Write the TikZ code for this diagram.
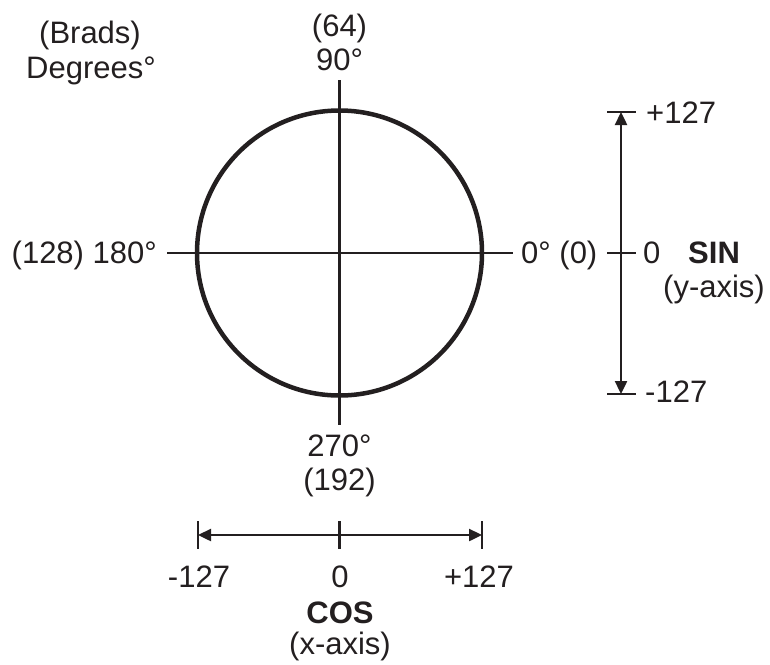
\documentclass[tikz,border=0pt]{standalone}
\usepackage{fontspec}
\setmainfont{Liberation Sans}
\usetikzlibrary{arrows.meta,positioning,calc}
\definecolor{ink}{RGB}{35,31,32}

\begin{document}
\begin{tikzpicture}[
x=1pt,y=-1pt,
lbl/.style={inner sep=0pt,text=ink,font=\fontsize{31}{37}\selectfont},
boldlbl/.style={lbl,font=\fontsize{31}{37}\selectfont\bfseries},
axis/.style={draw=ink,line width=2.5pt},
tickmark/.style={draw=ink,line width=2.8pt},
arrow/.style={<->,>={Triangle[length=13pt,width=12pt]},draw=ink,fill=ink,line width=2.4pt}
]
\useasboundingbox (0,0) rectangle (770,664);

% circle and its two axes
\coordinate (o) at (339.5,253);
\coordinate (top) at (339.5,80);
\coordinate (bot) at (339.5,425);
\coordinate (left) at (167,253);
\coordinate (right) at (513,253);
\draw[draw=ink,line width=4.5pt] (o) circle[radius=142.5pt];
\draw[axis] (top) -- (bot);
\draw[axis] (left) -- (right);

% angle labels
\node[lbl,anchor=base] (brads) at (90,43) {(Brads)};
\node[lbl,anchor=base] (degrees) at (91,78) {Degrees°};
\node[lbl,anchor=base] (b64) at (339.5,36) {(64)};
\node[lbl,anchor=base] (d90) at (339.5,70) {90°};
\node[lbl,anchor=base east] (d180) at (157,263) {(128) 180°};
\node[lbl,anchor=base west] (d0) at (521,263) {0° (0)};
\node[lbl,anchor=base] (d270) at (339.5,456) {270°};
\node[lbl,anchor=base] (b192) at (339.5,490) {(192)};

% sine scale
\coordinate (sinhi) at (621,112);
\coordinate (sinmid) at (621,253);
\coordinate (sinlo) at (621,394);
\draw[arrow] (sinhi) -- (sinlo);
\foreach \c in {sinhi,sinmid,sinlo}
  \draw[tickmark] ($(\c)+(-14,0)$) -- ($(\c)+(15,0)$);
\node[lbl,anchor=base west] (sinmax) at (646,123) {+127};
\node[lbl,anchor=base west] (sinzero) at (643,263) {0};
\node[boldlbl,anchor=base west] (sin) at (688,263) {SIN};
\node[lbl,anchor=base] (yaxis) at (714,297) {(y-axis)};
\node[lbl,anchor=base west] (sinmin) at (645,402) {-127};

% cosine scale
\coordinate (coslo) at (198,535);
\coordinate (cosmid) at (339.5,535);
\coordinate (coshi) at (482,535);
\draw[arrow] (coslo) -- (coshi);
\foreach \c in {coslo,cosmid,coshi}
  \draw[tickmark] ($(\c)+(0,-14)$) -- ($(\c)+(0,14)$);
\node[lbl,anchor=base] (cosmin) at (199,587) {-127};
\node[lbl,anchor=base] (coszero) at (340,587) {0};
\node[lbl,anchor=base] (cosmax) at (479,587) {+127};
\node[boldlbl,anchor=base] (cos) at (340,623) {COS};
\node[lbl,anchor=base] (xaxis) at (340,654) {(x-axis)};

\end{tikzpicture}
\end{document}
